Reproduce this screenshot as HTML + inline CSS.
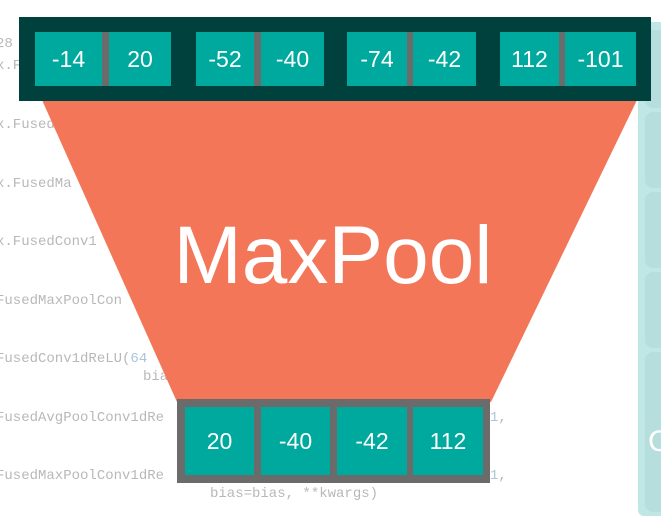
<!DOCTYPE html>
<html><head><style>
body{margin:0;width:661px;height:518px;background:#fff;position:relative;overflow:hidden;font-family:"Liberation Sans",sans-serif}
.code{position:absolute;font-family:"Liberation Mono",monospace;font-size:14px;color:#b8b8b8;white-space:pre}
.cell{position:absolute;background:#00a99d;color:#fff;font-size:23px;display:flex;align-items:center;justify-content:center}
.g{position:absolute;background:#6b6b6b}
</style></head><body>
<div class="code" style="left:-4px;top:36px">28</div>
<div class="code" style="left:-4px;top:58px">x.F</div>
<div class="code" style="left:-4px;top:117px">x.Fused</div>
<div class="code" style="left:-4px;top:176px">x.FusedMa</div>
<div class="code" style="left:-4px;top:234px">x.FusedConv1</div>
<div class="code" style="left:-4px;top:293px">FusedMaxPoolCon</div>
<div class="code" style="left:-4px;top:351px">FusedConv1dReLU(<span style="color:#aac4d8">64</span></div>
<div class="code" style="left:143px;top:369px">bia</div>
<div class="code" style="left:-4px;top:410px">FusedAvgPoolConv1dRe</div>
<div class="code" style="left:490px;top:410px"><span style="color:#aac4d8">1</span>,</div>
<div class="code" style="left:-4px;top:468px">FusedMaxPoolConv1dRe</div>
<div class="code" style="left:490px;top:468px"><span style="color:#aac4d8">1</span>,</div>
<div class="code" style="left:210px;top:486px">bias=bias, **kwargs)</div>
<div style="position:absolute;left:638px;top:22px;width:40px;height:494px;background:#bfe7e5;border-radius:6px"></div>
<div style="position:absolute;left:645px;top:30px;width:30px;height:78px;background:#b5dedc;border-radius:8px"></div>
<div style="position:absolute;left:645px;top:112px;width:30px;height:76px;background:#b5dedc;border-radius:8px"></div>
<div style="position:absolute;left:645px;top:192px;width:30px;height:76px;background:#b5dedc;border-radius:8px"></div>
<div style="position:absolute;left:645px;top:272px;width:30px;height:76px;background:#b5dedc;border-radius:8px"></div>
<div style="position:absolute;left:645px;top:352px;width:30px;height:160px;background:#b5dedc;border-radius:8px"></div>
<div style="position:absolute;left:648px;top:425px;color:#fff;font-size:30px">C</div>
<svg style="position:absolute;left:0;top:0" width="661" height="518"><polygon points="42,100 637,100 491,402 177,402" fill="#f37659"/></svg>
<div style="position:absolute;left:19px;top:17px;width:632px;height:84px;background:#00403d"></div>
<div class="g" style="left:100px;top:32px;width:12px;height:54px"></div>
<div class="g" style="left:252px;top:32px;width:12px;height:54px"></div>
<div class="g" style="left:405px;top:32px;width:12px;height:54px"></div>
<div class="g" style="left:557px;top:32px;width:12px;height:54px"></div>
<div class="cell" style="left:35px;top:32px;width:67px;height:54px">-14</div>
<div class="cell" style="left:109px;top:32px;width:62px;height:54px">20</div>
<div class="cell" style="left:196px;top:32px;width:58px;height:54px">-52</div>
<div class="cell" style="left:261px;top:32px;width:63px;height:54px">-40</div>
<div class="cell" style="left:347px;top:32px;width:60px;height:54px">-74</div>
<div class="cell" style="left:413px;top:32px;width:63px;height:54px">-42</div>
<div class="cell" style="left:500px;top:32px;width:59px;height:54px">112</div>
<div class="cell" style="left:565px;top:32px;width:71px;height:54px">-101</div>
<div style="position:absolute;left:118px;top:208px;width:430px;text-align:center;color:#fff;font-size:82px;line-height:96px">MaxPool</div>
<div class="g" style="left:177px;top:399px;width:313px;height:84px"></div>
<div class="cell" style="left:185px;top:407px;width:69px;height:68px">20</div>
<div class="cell" style="left:261px;top:407px;width:69px;height:68px">-40</div>
<div class="cell" style="left:337px;top:407px;width:70px;height:68px">-42</div>
<div class="cell" style="left:413px;top:407px;width:70px;height:68px">112</div>
</body></html>
